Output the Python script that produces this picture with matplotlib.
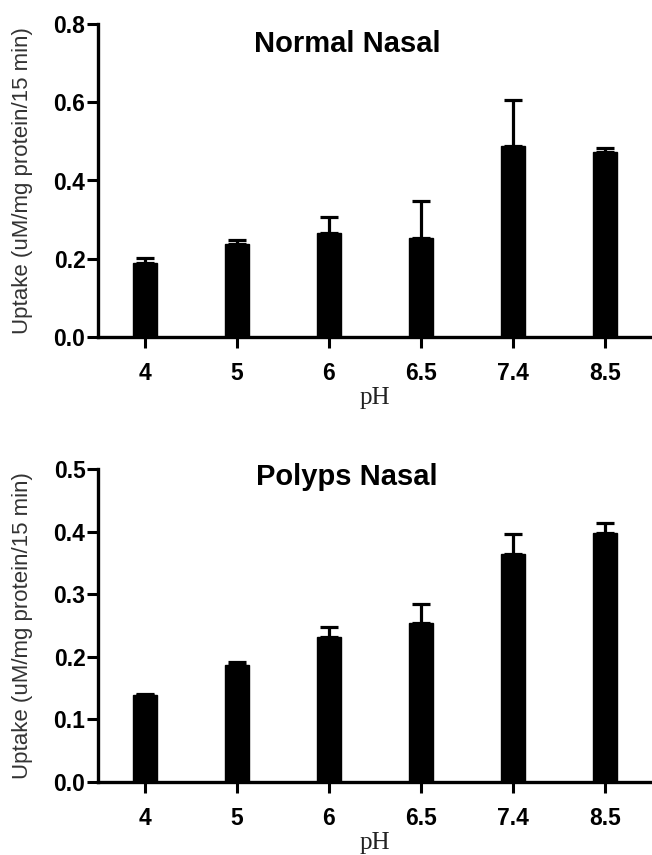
import matplotlib
matplotlib.use("Agg")
import matplotlib.pyplot as plt
import numpy as np

plt.rcParams['font.family'] = ['Liberation Sans', 'DejaVu Sans']

ph_labels = ["4", "5", "6", "6.5", "7.4", "8.5"]

normal_mean = [0.189, 0.238, 0.267, 0.253, 0.489, 0.473]
normal_err = [0.013, 0.009, 0.040, 0.094, 0.117, 0.011]

polyps_mean = [0.139, 0.187, 0.232, 0.254, 0.364, 0.398]
polyps_err = [0.002, 0.005, 0.016, 0.030, 0.032, 0.016]

panels = [
    ("Normal Nasal", normal_mean, normal_err, 0.8, 0.2),
    ("Polyps Nasal", polyps_mean, polyps_err, 0.5, 0.1),
]

W, H = 652, 855
fig = plt.figure(figsize=(W / 100, H / 100), dpi=100)

# axes geometry in pixels: (left, top, right, bottom)
geoms = [(98, 24, 652, 337), (98, 469, 652, 782)]
title_baselines = [52, 485]

for (title, means, errs, ymax, ystep), (l, t, r, b), tb in zip(panels, geoms, title_baselines):
    ax = fig.add_axes([l / W, (H - b) / H, (r - l) / W, (b - t) / H])
    x = np.arange(len(ph_labels))
    ax.bar(x, means, width=0.27, color='black', edgecolor='black', zorder=2)
    ax.errorbar(x, means, yerr=[np.zeros(len(errs)), errs], fmt='none',
                ecolor='black', elinewidth=2.3, capsize=6.2, capthick=2.3, zorder=1)
    ax.set_xlim(-0.51, 5.51)
    ax.set_ylim(0, ymax)
    ax.set_yticks(np.arange(0, ymax + 1e-9, ystep))
    ax.set_yticklabels([f"{v:.1f}" for v in np.arange(0, ymax + 1e-9, ystep)])
    ax.set_xticks(x)
    ax.set_xticklabels(ph_labels)
    for s in ['top', 'right']:
        ax.spines[s].set_visible(False)
    for s in ['left', 'bottom']:
        ax.spines[s].set_linewidth(2.4)
    ax.tick_params(axis='y', length=8, width=2.2, pad=1, labelsize=16.5)
    ax.tick_params(axis='x', length=8, width=2.2, pad=10, labelsize=16.5)
    for lab in ax.get_xticklabels() + ax.get_yticklabels():
        lab.set_fontweight('bold')
    # title
    fig.text(347 / W, (H - tb) / H, title, ha='center', va='baseline',
             fontsize=21, fontweight='bold')
    # y label
    fig.text(23 / W, (H - (t + b) / 2) / H, "Uptake (uM/mg protein/15 min)",
             rotation=90, ha='center', va='center', fontsize=16, color='#333333')
    # x label
    fig.text(375 / W, (H - (b + 61)) / H, "pH", ha='center', va='center',
             fontsize=18, family=['Liberation Serif', 'DejaVu Serif'], color='#222222')

fig.savefig("out.png", dpi=100)
